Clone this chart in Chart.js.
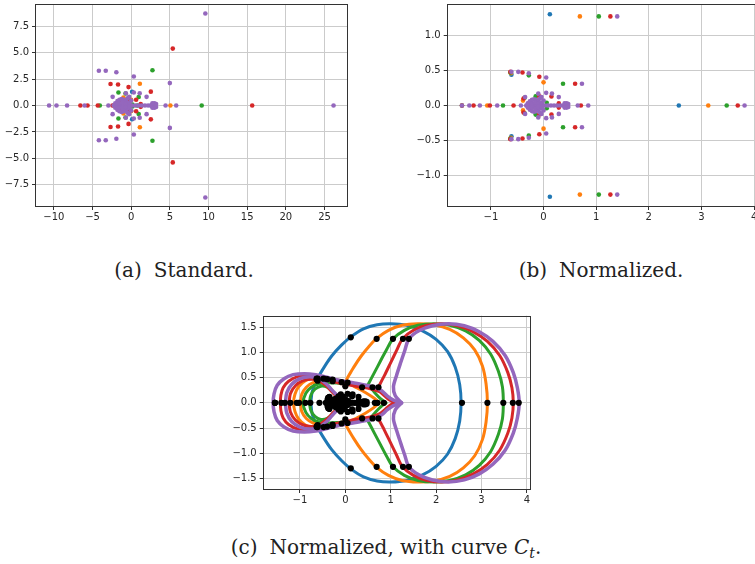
<!DOCTYPE html>
<html>
<head>
<meta charset="utf-8">
<script src="https://cdn.jsdelivr.net/npm/chart.js@4.4.1/dist/chart.umd.min.js"></script>
<style>
html, body { margin: 0; padding: 0; width: 755px; height: 564px; overflow: hidden; background: #fff; }
.box { position: absolute; }
.cap { position: absolute; font-family: "DejaVu Serif", serif; font-size: 20px; line-height: 20px;
       color: #222; text-align: center; white-space: nowrap; }
.gap { display: inline-block; width: 12px; }
.cap sub { font-size: 14px; line-height: 0; vertical-align: -4px; }
</style>
</head>
<body>
<div class="box" style="left:0px;top:0px;"><canvas id="chartA" width="360" height="230"></canvas></div>
<div class="box" style="left:390px;top:0px;"><canvas id="chartB" width="400" height="230"></canvas></div>
<div class="box" style="left:220px;top:310px;"><canvas id="chartC" width="330" height="200"></canvas></div>
<div class="cap" style="left:0px;top:260px;width:368px;">(a)<span class="gap"></span>Standard.</div>
<div class="cap" style="left:401px;top:260px;width:400px;">(b)<span class="gap"></span>Normalized.</div>
<div class="cap" style="left:186px;top:537px;width:400px;">(c)<span class="gap"></span>Normalized, with curve <i>C<sub>t</sub></i>.</div>

<script>
// Colours of the five series (blue, orange, green, red, purple)
const seriesColors = ['#1f77b4', '#ff7f0e', '#2ca02c', '#d62728', '#9467bd'];

// Normalized points: real roots, and upper half of conjugate pairs [re, im]
const normBlueReal = [2.57];
const normBlueUpper = [[0.12, 1.30], [-0.61, 0.44]];
const normOrangeReal = [3.13, -1.07];
const normOrangeUpper = [[0.69, 1.27], [0.00, 0.33], [-0.39, 0.07], [-0.62, 0.46]];
const normGreenReal = [3.48, -0.77, -1.55, 0.30];
const normGreenUpper = [[1.05, 1.27], [0.37, 0.31], [-0.28, 0.43], [-0.63, 0.47], [-0.36, 0.11], [-0.15, 0.13], [0.06, 0.04]];
const normRedReal = [3.69, -1.55, -1.33, -1.02, -0.57, 0.30, 0.71];
const normRedUpper = [[1.27, 1.27], [0.60, 0.31], [-0.63, 0.48], [-0.40, 0.47], [-0.08, 0.41], [0.15, 0.13], [0.29, 0.03], [-0.38, 0.10], [-0.08, 0.13]];
const normPurpleReal = [3.82, -1.55, -1.41, -1.21, -0.88, -0.43, 0.44, 0.65, 0.85,
    -0.33, -0.27, -0.20, -0.13, -0.06, 0.02, 0.08, 0.14, 0.20, 0.26, 0.32, 0.38];
const normPurpleUpper = [[1.40, 1.27], [0.73, 0.31], [-0.61, 0.48], [-0.48, 0.48], [-0.28, 0.46], [0.05, 0.40],
    [-0.35, 0.12], [-0.10, 0.17], [0.05, 0.18], [0.16, 0.17], [0.29, 0.12], [0.44, 0.03],
    [-0.30, 0.03], [-0.26, 0.06], [-0.22, 0.08], [-0.18, 0.09], [-0.14, 0.08], [-0.10, 0.06], [-0.06, 0.04],
    [-0.22, 0.03], [-0.16, 0.04], [-0.10, 0.02], [-0.03, 0.02], [0.40, 0.03], [0.47, 0.02],
    [-0.07, 0.10], [0.00, 0.07], [-0.04, 0.12]];

// Standard (unscaled) points
const stdBlueReal = [2.57];
const stdBlueUpper = [[0.12, 1.30], [-0.61, 0.44]];
const stdOrangeReal = [5.07, -1.73];
const stdOrangeUpper = [[1.12, 2.06], [0.00, 0.53], [-0.63, 0.11], [-1.00, 0.75]];
const stdGreenReal = [9.12, -2.02, -4.06, 0.79];
const stdGreenUpper = [[2.75, 3.33], [0.97, 0.81], [-0.73, 1.13], [-1.65, 1.23], [-0.94, 0.29], [-0.39, 0.34], [0.16, 0.10]];
const stdRedReal = [15.65, -6.57, -5.64, -4.32, -2.42, 1.27, 3.01];
const stdRedUpper = [[5.38, 5.38], [2.54, 1.31], [-2.67, 2.04], [-1.70, 1.99], [-0.34, 1.74], [0.64, 0.55], [1.23, 0.13], [-1.61, 0.42], [-0.34, 0.55]];
const stdPurpleReal = [26.17, -10.62, -9.66, -8.29, -6.03, -2.95, 3.01, 4.45, 5.82,
    -2.26, -1.85, -1.37, -0.89, -0.41, 0.14, 0.55, 0.96, 1.37, 1.78, 2.19, 2.60];
const stdPurpleUpper = [[9.59, 8.70], [5.00, 2.12], [-4.18, 3.29], [-3.29, 3.29], [-1.92, 3.15], [0.34, 2.74],
    [-2.40, 0.82], [-0.69, 1.16], [0.34, 1.23], [1.10, 1.16], [1.99, 0.82], [3.01, 0.21],
    [-2.06, 0.21], [-1.78, 0.41], [-1.51, 0.55], [-1.23, 0.62], [-0.96, 0.55], [-0.69, 0.41], [-0.41, 0.27],
    [-1.51, 0.21], [-1.10, 0.27], [-0.69, 0.14], [-0.21, 0.14], [2.74, 0.21], [3.22, 0.14],
    [-0.48, 0.69], [0.00, 0.48], [-0.27, 0.82]];

// Curves C_t, upper halves (mirrored below the real axis when drawn)
const curveBlueArc = [[-0.76, 0.00], [-0.73, 0.22], [-0.65, 0.42], [-0.50, 0.66], [-0.30, 0.93], [-0.08, 1.15], [0.12, 1.31],
    [0.40, 1.47], [0.70, 1.55], [1.00, 1.57], [1.35, 1.54], [1.70, 1.43], [2.00, 1.26], [2.25, 1.02], [2.42, 0.71], [2.52, 0.36], [2.55, 0.00]];
const curveOrangeArc = [[0.03, 0.47], [0.18, 0.70], [0.35, 0.93], [0.52, 1.12], [0.69, 1.28], [0.95, 1.44], [1.25, 1.54], [1.60, 1.57],
    [1.95, 1.55], [2.30, 1.46], [2.60, 1.29], [2.85, 1.05], [3.02, 0.73], [3.10, 0.38], [3.13, 0.00]];
const curveGreenArc = [[0.50, 0.36], [0.64, 0.60], [0.78, 0.84], [0.91, 1.06], [1.05, 1.27], [1.30, 1.44], [1.60, 1.54], [1.95, 1.57],
    [2.30, 1.54], [2.65, 1.43], [2.95, 1.24], [3.20, 0.97], [3.37, 0.63], [3.46, 0.32], [3.48, 0.00]];
const curveRedArc = [[0.72, 0.30], [0.86, 0.54], [1.00, 0.80], [1.13, 1.04], [1.26, 1.27], [1.50, 1.44], [1.80, 1.54], [2.13, 1.57],
    [2.48, 1.53], [2.82, 1.41], [3.13, 1.22], [3.40, 0.94], [3.58, 0.60], [3.67, 0.30], [3.70, 0.00]];
const curvePurpleArc = [[1.24, 0.00], [1.10, 0.14], [1.06, 0.32], [1.13, 0.55], [1.22, 0.80], [1.31, 1.04], [1.40, 1.27], [1.62, 1.43],
    [1.92, 1.53], [2.27, 1.57], [2.62, 1.53], [2.95, 1.41], [3.25, 1.22], [3.52, 0.94], [3.70, 0.60], [3.79, 0.30], [3.83, 0.00]];
const curveOrangeBody = [[0.75, 0.00], [0.62, 0.10], [0.45, 0.20], [0.25, 0.30], [0.03, 0.40], [-0.20, 0.46], [-0.45, 0.50],
    [-0.68, 0.50], [-0.88, 0.44], [-1.03, 0.32], [-1.11, 0.17], [-1.14, 0.00]];
const curveOrangeInner = [[-0.99, 0.00], [-0.96, 0.17], [-0.86, 0.31], [-0.71, 0.40], [-0.54, 0.41], [-0.40, 0.34], [-0.28, 0.22],
    [-0.14, 0.09], [0.00, 0.00]];
const curveGreenBody = [[0.90, 0.00], [0.78, 0.08], [0.65, 0.20], [0.55, 0.30], [0.35, 0.35], [0.10, 0.37], [-0.15, 0.39],
    [-0.38, 0.40], [-0.58, 0.38], [-0.75, 0.31], [-0.87, 0.19], [-0.93, 0.00]];
const curveGreenInner = [[-0.79, 0.00], [-0.76, 0.15], [-0.67, 0.27], [-0.54, 0.33], [-0.40, 0.31], [-0.28, 0.22], [-0.16, 0.10],
    [-0.04, 0.00]];
const curveRedBody = [[1.08, 0.00], [0.95, 0.07], [0.85, 0.15], [0.75, 0.22], [0.55, 0.28], [0.30, 0.32], [0.00, 0.37], [-0.30, 0.43],
    [-0.55, 0.50], [-0.80, 0.54], [-1.05, 0.52], [-1.25, 0.43], [-1.37, 0.30], [-1.42, 0.15], [-1.43, 0.00]];
const curveRedInner = [[-1.24, 0.00], [-1.21, 0.18], [-1.10, 0.34], [-0.93, 0.44], [-0.73, 0.47], [-0.55, 0.42], [-0.40, 0.32],
    [-0.25, 0.18], [-0.10, 0.07], [0.05, 0.00]];
const curvePurpleBody = [[1.24, 0.00], [1.05, 0.06], [0.92, 0.14], [0.80, 0.24], [0.65, 0.31], [0.40, 0.36], [0.10, 0.41], [-0.20, 0.46],
    [-0.45, 0.52], [-0.65, 0.56], [-0.90, 0.58], [-1.15, 0.56], [-1.35, 0.48], [-1.50, 0.35], [-1.57, 0.18], [-1.59, 0.00]];
const curvePurpleInner = [[-1.32, 0.00], [-1.29, 0.20], [-1.18, 0.37], [-1.00, 0.48], [-0.78, 0.52], [-0.58, 0.48], [-0.42, 0.38],
    [-0.28, 0.24], [-0.12, 0.10], [0.05, 0.03], [0.20, 0.00]];

// Axis ranges and ticks
const rangeAx = [-12.44, 28.04], rangeAy = [-9.6, 9.6];
const rangeBx = [-1.84, 4.09], rangeBy = [-1.447, 1.447];
const rangeCx = [-1.82, 4.09], rangeCy = [-1.73, 1.73];
const ticksAx = [-10, -5, 0, 5, 10, 15, 20, 25];
const ticksAy = [-7.5, -5, -2.5, 0, 2.5, 5, 7.5];
const ticksBx = [-1, 0, 1, 2, 3, 4];
const ticksBy = [-1, -0.5, 0, 0.5, 1];
const ticksCx = [-1, 0, 1, 2, 3, 4];
const ticksCy = [-1.5, -1, -0.5, 0, 0.5, 1, 1.5];

// real roots plus conjugate pairs
function roots(real, upper) {
    const out = real.map(x => ({x: x, y: 0}));
    upper.forEach(([x, y]) => { out.push({x: x, y: y}); out.push({x: x, y: -y}); });
    return out;
}

// upper half followed by its mirror image, walked back
function mirrorPath(upper) {
    const top = upper.map(([x, y]) => ({x: x, y: y}));
    const bottom = upper.slice().reverse().map(([x, y]) => ({x: x, y: -y}));
    if (upper[upper.length - 1][1] === 0) bottom.shift();
    return top.concat(bottom);
}

const minus = s => s.replace('-', '\u2212');

function pointSets(series, radius, color) {
    return series.map((s, i) => ({
        data: roots(s[0], s[1]),
        backgroundColor: color || seriesColors[i],
        borderWidth: 0,
        pointRadius: radius,
        order: color ? 0 : 5 - i
    }));
}

function options(xr, yr, xt, yt, yWidth, xHeight, padding) {
    const grid = {color: '#cbcbcb', lineWidth: 1, drawTicks: true, tickLength: 3, tickColor: '#333', tickWidth: 1};
    const font = {family: 'DejaVu Sans', size: 10};
    return {
        responsive: false,
        animation: false,
        events: [],
        layout: {padding: padding},
        plugins: {legend: {display: false}, tooltip: {enabled: false}},
        scales: {
            x: {
                type: 'linear', min: xr[0], max: xr[1], bounds: 'data',
                grid: grid, border: {display: false},
                ticks: {color: '#262626', font: font, padding: 1, maxRotation: 0, autoSkip: false,
                        callback: v => minus(String(v))},
                afterBuildTicks: s => { s.ticks = xt.map(v => ({value: v})); },
                afterFit: s => { s.height = xHeight; s.paddingLeft = 0; s.paddingRight = 0; }
            },
            y: {
                type: 'linear', min: yr[0], max: yr[1], bounds: 'data',
                grid: grid, border: {display: false},
                ticks: {color: '#262626', font: font, padding: 3, autoSkip: false,
                        callback: v => minus(v.toFixed(1))},
                afterBuildTicks: s => { s.ticks = yt.map(v => ({value: v})); },
                afterFit: s => { s.width = yWidth; s.paddingTop = 0; s.paddingBottom = 0; }
            }
        }
    };
}

// box around the plot area (matplotlib spines)
const framePlugin = {
    id: 'frame',
    afterDatasetsDraw(chart) {
        const a = chart.chartArea, ctx = chart.ctx;
        ctx.save();
        ctx.strokeStyle = '#333';
        ctx.lineWidth = 1;
        const l = Math.round(a.left) + 0.5, t = Math.round(a.top) + 0.5;
        ctx.strokeRect(l, t, Math.round(a.right) - 1 - l + 0.5, Math.round(a.bottom) - 1 - t + 0.5);
        ctx.restore();
    }
};

const stdSeries = [[stdBlueReal, stdBlueUpper], [stdOrangeReal, stdOrangeUpper], [stdGreenReal, stdGreenUpper],
    [stdRedReal, stdRedUpper], [stdPurpleReal, stdPurpleUpper]];
const normSeries = [[normBlueReal, normBlueUpper], [normOrangeReal, normOrangeUpper], [normGreenReal, normGreenUpper],
    [normRedReal, normRedUpper], [normPurpleReal, normPurpleUpper]];

new Chart(document.getElementById('chartA'), {
    type: 'scatter',
    data: {datasets: pointSets(stdSeries, 2.3)},
    options: options(rangeAx, rangeAy, ticksAx, ticksAy, 35, 23, {left: 0, top: 3, right: 12, bottom: 0}),
    plugins: [framePlugin]
});

new Chart(document.getElementById('chartB'), {
    type: 'scatter',
    data: {datasets: pointSets(normSeries, 2.3)},
    options: options(rangeBx, rangeBy, ticksBx, ticksBy, 56.7, 23, {left: 0, top: 3, right: 31.2, bottom: 0}),
    plugins: [framePlugin]
});

// curves: [points, colour index, line width]
const curves = [
    [curveBlueArc, 0, 3], [curveOrangeArc, 1, 3], [curveOrangeBody, 1, 3], [curveOrangeInner, 1, 3],
    [curveGreenArc, 2, 3], [curveGreenBody, 2, 3], [curveGreenInner, 2, 3],
    [curveRedArc, 3, 3], [curveRedBody, 3, 3], [curveRedInner, 3, 3],
    [curvePurpleArc, 4, 3.5], [curvePurpleBody, 4, 3.5], [curvePurpleInner, 4, 3.5]
];
const curveSets = curves.map(([pts, ci, w]) => ({
    data: mirrorPath(pts),
    showLine: true,
    borderColor: seriesColors[ci],
    borderWidth: w,
    borderJoinStyle: 'round',
    borderCapStyle: 'round',
    tension: 0.3,
    pointRadius: 0,
    fill: false,
    order: 5 - ci
}));

new Chart(document.getElementById('chartC'), {
    type: 'scatter',
    data: {datasets: curveSets.concat(pointSets(normSeries, 3.1, '#000'))},
    options: options(rangeCx, rangeCy, ticksCx, ticksCy, 42.7, 20, {left: 0, top: 5.7, right: 19, bottom: 0}),
    plugins: [framePlugin]
});
</script>
</body>
</html>
